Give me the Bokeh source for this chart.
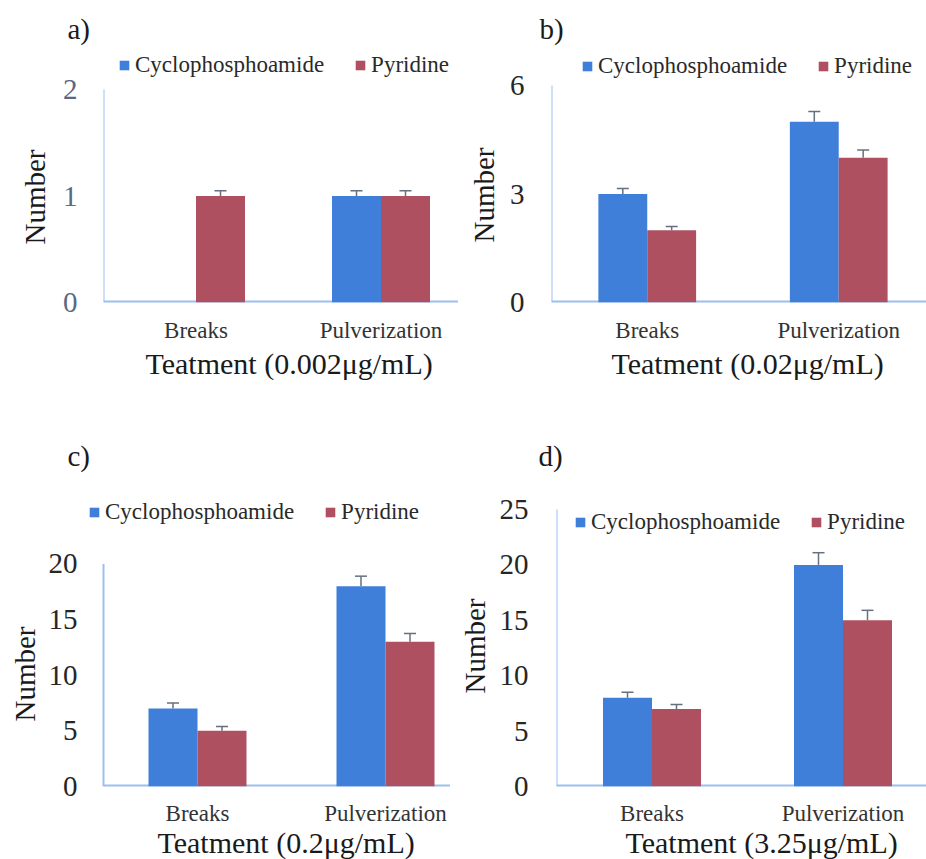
from bokeh.plotting import figure
from bokeh.models import (Range1d, FixedTicker, ColumnDataSource, Legend, LegendItem,
                          Whisker, TeeHead, Title)
from bokeh.layouts import column, row
from bokeh.embed import file_html
from bokeh.resources import INLINE

# ---------------- data ----------------
categories = ["Breaks", "Pulverization"]
series_names = ["Cyclophosphoamide", "Pyridine"]

a_cyclo = [0, 1]
a_pyr = [1, 1]
a_cyclo_err = [0, 0.05]
a_pyr_err = [0.05, 0.05]
a_ticks = [0, 1, 2]

b_cyclo = [3, 5]
b_pyr = [2, 4]
b_cyclo_err = [0.15, 0.28]
b_pyr_err = [0.1, 0.22]
b_ticks = [0, 3, 6]

c_cyclo = [7, 18]
c_pyr = [5, 13]
c_cyclo_err = [0.5, 0.9]
c_pyr_err = [0.4, 0.75]
c_ticks = [0, 5, 10, 15, 20]

d_cyclo = [8, 20]
d_pyr = [7, 15]
d_cyclo_err = [0.5, 1.1]
d_pyr_err = [0.4, 0.9]
d_ticks = [0, 5, 10, 15, 20, 25]

x_titles = ["Teatment (0.002\u03bcg/mL)", "Teatment (0.02\u03bcg/mL)",
            "Teatment (0.2\u03bcg/mL)", "Teatment (3.25\u03bcg/mL)"]
y_title = "Number"
panel_tags = ["a)", "b)", "c)", "d)"]

# ---------------- style ----------------
BLUE = "#3f7fd9"
RED = "#af5060"
AXIS = "#9cbff0"
ERR = "#66707e"
FONT = "Liberation Serif"
TXT = "#1a1a1a"


def panel(tag, xtitle, cyc, pyr, cyc_err, pyr_err, ticks, tick_color, L):
    """L holds layout numbers in pixels (figure-relative)."""
    W, H = L["W"], L["H"]
    fl, ax, ft, fb, ty = L["fl"], L["ax"], L["ft"], L["fb"], L["ty"]
    sp = L["sp"]
    x0 = (fl - ax) / sp
    x1 = (W - ax) / sp
    y1 = ticks[-1] * (fb - ft) / (fb - ty)
    bar_w = 49.0 / sp
    p = figure(width=W, height=H, output_backend="svg", toolbar_location=None,
               x_range=Range1d(x0, x1), y_range=Range1d(0, y1),
               min_border_left=fl, min_border_right=0, min_border_top=ft,
               min_border_bottom=H - fb)
    p.outline_line_color = None
    p.xgrid.visible = False
    p.ygrid.visible = False

    # axis lines (L shape) from the ranges / ticks
    p.segment(x0=[0, 0], y0=[0, 0], x1=[0, x1], y1=[ticks[-1], 0],
              line_color=AXIS, line_width=[2, 4])

    centers = [i + 0.5 for i in range(len(categories))]
    renderers = []
    for vals, errs, col, sign in ((cyc, cyc_err, BLUE, -1), (pyr, pyr_err, RED, 1)):
        xs = [c + sign * bar_w / 2 for c in centers]
        src = ColumnDataSource(dict(x=xs, top=vals))
        r = p.vbar(x="x", top="top", width=bar_w, bottom=0, source=src,
                   fill_color=col, line_color=None)
        renderers.append(r)
        wx = [x for x, e in zip(xs, errs) if e > 0]
        wl = [v for v, e in zip(vals, errs) if e > 0]
        wu = [v + e for v, e in zip(vals, errs) if e > 0]
        wsrc = ColumnDataSource(dict(base=wx, lower=wl, upper=wu))
        w = Whisker(base="base", lower="lower", upper="upper", source=wsrc,
                    dimension="height", line_color=ERR, line_width=1.5,
                    upper_head=TeeHead(size=12, line_color=ERR, line_width=1.5),
                    lower_head=None)
        p.add_layout(w)

    # x axis: category labels
    xa = p.xaxis[0]
    xa.ticker = FixedTicker(ticks=centers)
    xa.major_label_overrides = {c: n for c, n in zip(centers, categories)}
    xa.axis_line_color = None
    xa.major_tick_line_color = None
    xa.minor_tick_line_color = None
    xa.major_tick_out = 0
    xa.major_label_text_font = FONT
    xa.major_label_text_font_size = "23px"
    xa.major_label_text_color = "#333333"
    xa.major_label_standoff = L["xl_so"]

    ya = p.yaxis[0]
    ya.ticker = FixedTicker(ticks=ticks)
    ya.axis_line_color = None
    ya.major_tick_line_color = None
    ya.minor_tick_line_color = None
    ya.major_tick_out = 0
    ya.major_label_text_font = FONT
    ya.major_label_text_font_size = "29px"
    ya.major_label_text_color = tick_color
    ya.major_label_standoff = L["yl_so"]

    # axis titles as side-panel titles (positioned like the original)
    p.add_layout(Title(text=xtitle, align="left", offset=L["xt_off"], standoff=L["xt_so"],
                       vertical_align="top", text_font=FONT, text_font_size="30px",
                       text_font_style="normal", text_color=TXT), "below")
    p.add_layout(Title(text=y_title, align="left", offset=L["num_off"], standoff=L["num_so"],
                       vertical_align="bottom", text_font=FONT, text_font_size="29px",
                       text_font_style="normal", text_color=TXT), "left")

    legend = Legend(items=[LegendItem(label=n, renderers=[r]) for n, r in zip(series_names, renderers)],
                    location=L["leg"], orientation="horizontal",
                    glyph_width=12, glyph_height=12, label_height=27,
                    label_standoff=5, spacing=30, padding=0, margin=0,
                    border_line_color=None, background_fill_alpha=0,
                    label_text_font=FONT, label_text_font_size="23px",
                    label_text_color="#2a2a2a")
    p.add_layout(legend)

    p.title.text = tag
    p.title.align = "left"
    p.title.offset = L["tag_off"]
    p.title.standoff = L["tag_so"]
    p.title.text_font = FONT
    p.title.text_font_size = "29px"
    p.title.text_font_style = "normal"
    p.title.text_color = TXT
    return p


# figure-relative layout numbers (pixels)
LA = dict(W=458, H=430, fl=103, ax=103, ft=45, fb=302, ty=89, sp=185,
          xl_so=15, yl_so=26, leg=(15, 224), tag_off=-36, tag_so=2,
          num_off=58, num_so=18, xt_off=42, xt_so=3)
LB = dict(W=468, H=430, fl=92, ax=92, ft=45, fb=302, ty=85, sp=192,
          xl_so=15, yl_so=27, leg=(30, 223), tag_off=-12, tag_so=2,
          num_off=60, num_so=14, xt_off=60, xt_so=3)
LC = dict(W=450, H=429, fl=88, ax=103, ft=45, fb=358, ty=134, sp=188,
          xl_so=14, yl_so=11, leg=(0, 261), tag_off=-21, tag_so=8,
          num_off=65, num_so=10, xt_off=69, xt_so=-5)
LD = dict(W=476, H=429, fl=106, ax=106, ft=45, fb=356, ty=79, sp=191,
          xl_so=14, yl_so=28, leg=(18, 251), tag_off=-18, tag_so=8,
          num_off=93, num_so=12, xt_off=69, xt_so=-5)

pa = panel(panel_tags[0], x_titles[0], a_cyclo, a_pyr, a_cyclo_err, a_pyr_err, a_ticks, "#5a6785", LA)
pb = panel(panel_tags[1], x_titles[1], b_cyclo, b_pyr, b_cyclo_err, b_pyr_err, b_ticks, "#262626", LB)
pc = panel(panel_tags[2], x_titles[2], c_cyclo, c_pyr, c_cyclo_err, c_pyr_err, c_ticks, "#262626", LC)
pd = panel(panel_tags[3], x_titles[3], d_cyclo, d_pyr, d_cyclo_err, d_pyr_err, d_ticks, "#262626", LD)

layout = column(row(pa, pb, spacing=0), row(pc, pd, spacing=0), spacing=0)

open("out.html", "w").write(file_html(layout, INLINE))
